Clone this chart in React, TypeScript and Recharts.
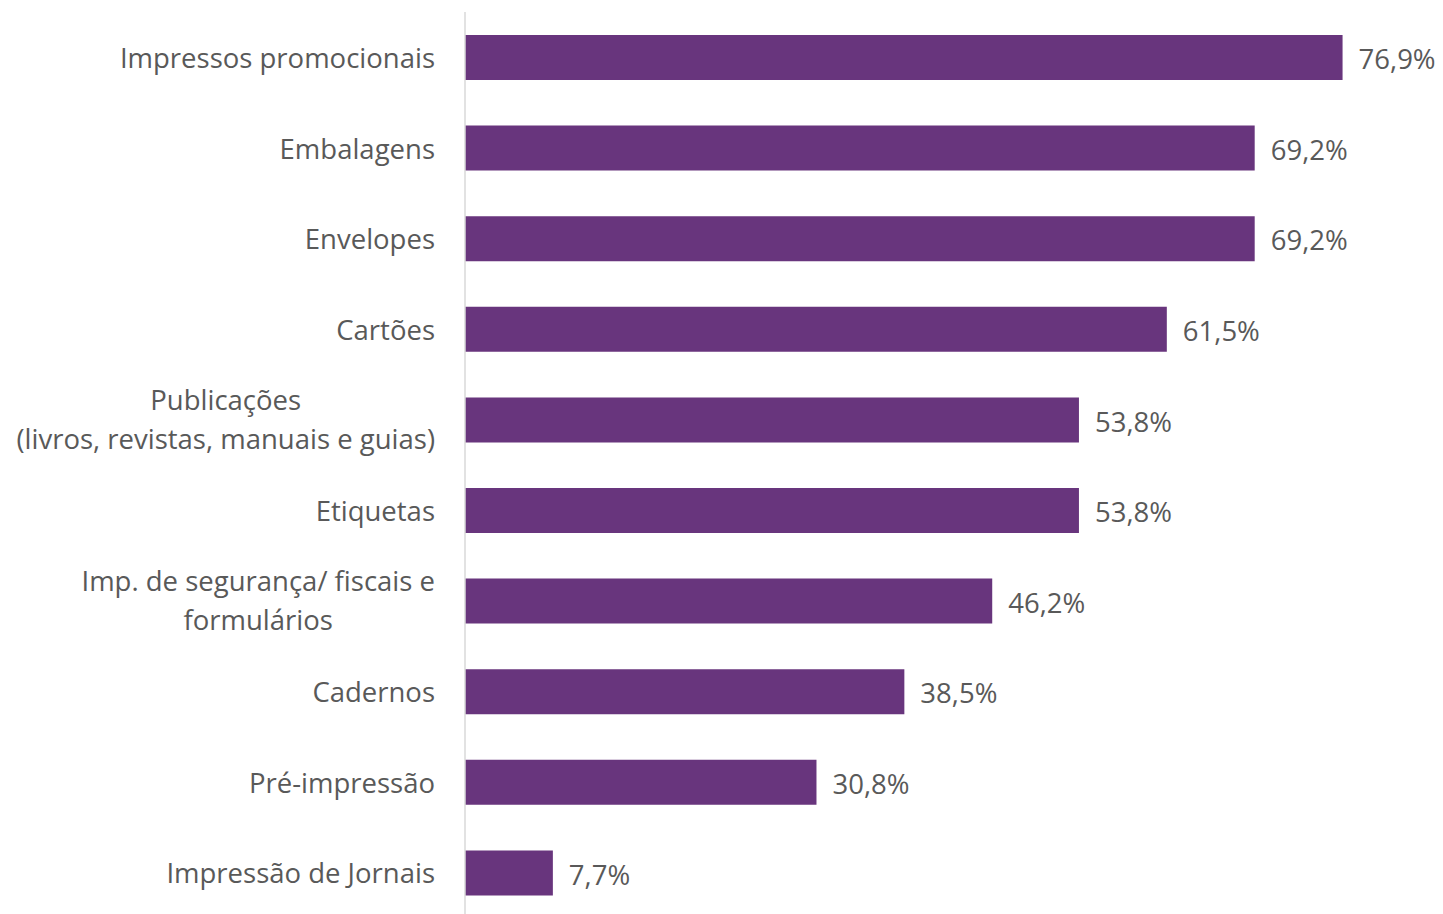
import { BarChart, Bar, XAxis, YAxis, LabelList } from 'recharts';

const categories = [
  'Impressos promocionais',
  'Embalagens',
  'Envelopes',
  'Cartões',
  'Publicações\n(livros, revistas, manuais e guias)',
  'Etiquetas',
  'Imp. de segurança/ fiscais e\nformulários',
  'Cadernos',
  'Pré-impressão',
  'Impressão de Jornais',
];
const shares = [76.9, 69.2, 69.2, 61.5, 53.8, 53.8, 46.2, 38.5, 30.8, 7.7];

const data = categories.map((name, i) => ({ name, value: shares[i] }));

const FONT = '"Open Sans", "Noto Sans", sans-serif';
const TEXT = '#595959';
const FONT_SIZE = 27.5;

let ctx: CanvasRenderingContext2D | null = null;
function textWidth(s: string) {
  if (!ctx) ctx = document.createElement('canvas').getContext('2d');
  if (!ctx) return s.length * FONT_SIZE * 0.5;
  ctx.font = `${FONT_SIZE}px "Open Sans"`;
  return ctx.measureText(s).width;
}

// Excel-style category label: multi-line blocks are centred, block right aligned
function CategoryTick({ x, y, payload }: any) {
  const lines = String(payload.value).split('\n');
  const right = x - 22;
  const lineH = 39;
  const startY = y - ((lines.length - 1) * lineH) / 2;
  if (lines.length === 1) {
    return (
      <text x={right} y={y + 1} dy="0.35em" textAnchor="end" fill={TEXT}
        fontSize={FONT_SIZE} fontFamily={FONT}>
        {lines[0]}
      </text>
    );
  }
  const blockW = Math.max(...lines.map(textWidth));
  const cx = right - blockW / 2;
  return (
    <text textAnchor="middle" fill={TEXT} fontSize={FONT_SIZE} fontFamily={FONT}>
      {lines.map((l, i) => (
        <tspan key={i} x={cx} y={startY + i * lineH} dy="0.35em">{l}</tspan>
      ))}
    </text>
  );
}

const pct = (v: any) => `${Number(v).toFixed(1).replace('.', ',')}%`;

export default function App() {
  return (
    <div style={{ position: 'absolute', left: 0, top: 0, background: '#fff' }}>
      <BarChart
        width={1443}
        height={920}
        data={data}
        layout="vertical"
        margin={{ top: 12, right: 8, bottom: 2, left: 0 }}
      >
        <XAxis type="number" domain={[0, 85]} hide />
        <YAxis
          type="category"
          dataKey="name"
          width={465}
          axisLine={{ stroke: '#D9D9D9', strokeWidth: 1.5 }}
          tickLine={false}
          tick={<CategoryTick />}
          interval={0}
        />
        <Bar dataKey="value" fill="#68357D" barSize={45} isAnimationActive={false}>
          <LabelList
            dataKey="value"
            position="right"
            offset={16}
            formatter={pct}
            fill={TEXT}
            fontSize={FONT_SIZE}
            fontFamily={FONT}
            dy={2}
          />
        </Bar>
      </BarChart>
    </div>
  );
}
